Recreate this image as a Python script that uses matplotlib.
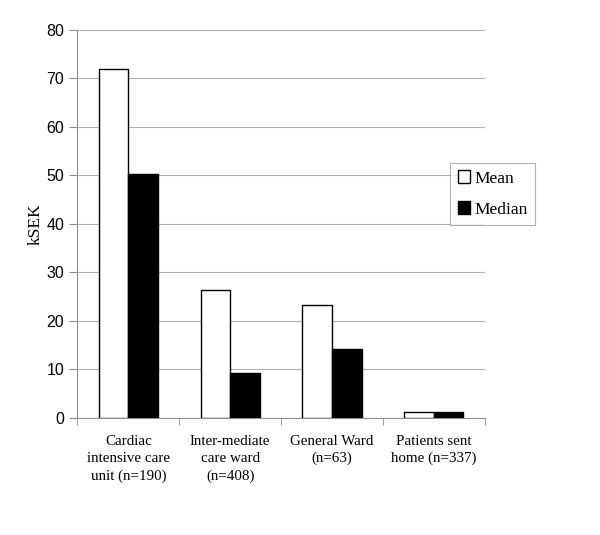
import numpy as np
import matplotlib as mpl

mpl.use("Agg")
import matplotlib.pyplot as plt

categories = ["Cardiac\nintensive care\nunit (n=190)",
              "Inter-mediate\ncare ward\n(n=408)",
              "General Ward\n(n=63)",
              "Patients sent\nhome (n=337)"]
mean_vals = [71.8, 26.3, 23.2, 1.2]
median_vals = [50.2, 9.3, 14.1, 1.2]
y_ticks = [0, 10, 20, 30, 40, 50, 60, 70, 80]

serif = "Liberation Serif"
sans = "Liberation Sans"

fig = plt.figure(figsize=(6.0, 5.35), dpi=100)
ax = fig.add_axes([0.129, 0.219, 0.679, 0.7255])

x = np.arange(len(categories))
w = 0.29
ax.bar(x - w / 2, mean_vals, w, color="white", edgecolor="black",
       linewidth=1.0, label="Mean", zorder=3)
ax.bar(x + w / 2, median_vals, w, color="black", edgecolor="black",
       linewidth=1.0, label="Median", zorder=3)

ax.set_xlim(-0.5, len(categories) - 0.5)
ax.set_ylim(0, 80)
ax.set_yticks(y_ticks)
ax.set_yticklabels([str(v) for v in y_ticks], fontsize=11.5, family=sans)
ax.yaxis.grid(True, color="#b0b0b0", linewidth=0.8, zorder=0)

ax.set_xticks(x)
ax.set_xticklabels(categories, fontsize=10.8, family=serif, linespacing=1.42)
ax.set_xticks(np.arange(len(categories) + 1) - 0.5, minor=True)
ax.tick_params(axis="x", which="major", length=0, pad=12)
ax.tick_params(axis="x", which="minor", length=5, color="#909090",
               direction="out")
ax.tick_params(axis="y", length=6, color="#909090", direction="out", pad=3.5)

for s in ["top", "right"]:
    ax.spines[s].set_visible(False)
for s in ["left", "bottom"]:
    ax.spines[s].set_color("#909090")
    ax.spines[s].set_linewidth(0.8)

ax.set_ylabel("kSEK", fontsize=12.5, family=serif, labelpad=2)

leg = ax.legend(loc="upper left", bbox_to_anchor=(0.75, 0.696),
                bbox_transform=fig.transFigure, frameon=True, fancybox=False,
                edgecolor="#a0a0a0", prop={"family": serif, "size": 12.5},
                handlelength=0.7, handleheight=0.7, handletextpad=0.25,
                labelspacing=0.85, borderpad=0.45, borderaxespad=0)
leg.get_frame().set_linewidth(0.8)

fig.savefig("out.png", dpi=100)
